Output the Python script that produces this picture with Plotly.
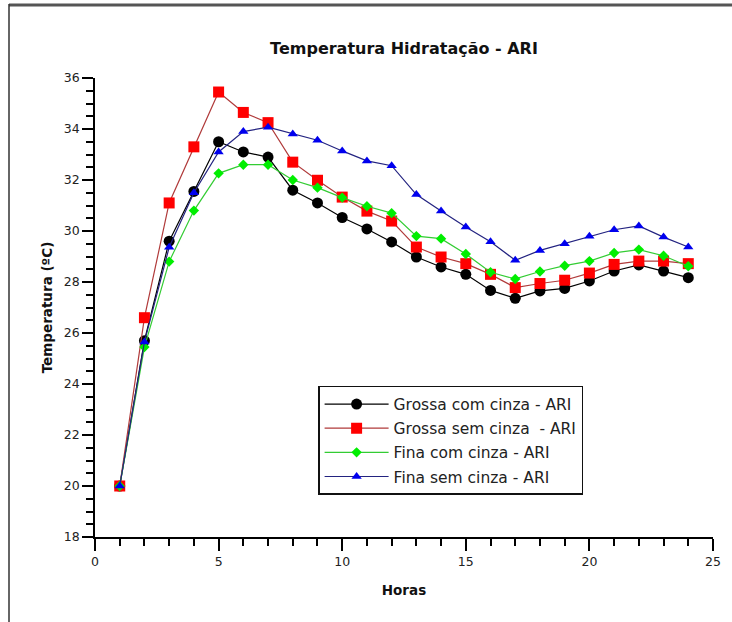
import plotly.graph_objects as go

horas = list(range(1, 25))
grossa_com = [20.0, 25.7, 29.6, 31.55, 33.5, 33.1, 32.9, 31.6, 31.1, 30.53, 30.08, 29.57,
              28.98, 28.59, 28.3, 27.67, 27.36, 27.65, 27.75, 28.04, 28.43, 28.67, 28.43, 28.17]
grossa_sem = [20.0, 26.6, 31.1, 33.3, 35.45, 34.65, 34.25, 32.7, 31.99, 31.33, 30.78, 30.39,
              29.37, 28.98, 28.72, 28.3, 27.78, 27.94, 28.07, 28.35, 28.69, 28.82, 28.82, 28.72]
fina_com = [20.0, 25.45, 28.8, 30.8, 32.26, 32.6, 32.6, 32.0, 31.7, 31.31, 30.97, 30.7,
            29.8, 29.7, 29.1, 28.38, 28.12, 28.41, 28.64, 28.82, 29.14, 29.27, 29.03, 28.62]
fina_sem = [20.0, 25.65, 29.36, 31.5, 33.1, 33.9, 34.07, 33.8, 33.56, 33.14, 32.75, 32.56,
            31.43, 30.78, 30.16, 29.58, 28.85, 29.24, 29.5, 29.79, 30.05, 30.2, 29.76, 29.37]

series = [
    ("Grossa com cinza - ARI", grossa_com, "#000000", "#000000", "circle", 11),
    ("Grossa sem cinza  - ARI", grossa_sem, "#b03a3a", "#ff0000", "square", 11),
    ("Fina com cinza - ARI", fina_com, "#33cc33", "#00ee00", "diamond", 8),
    ("Fina sem cinza - ARI", fina_sem, "#232380", "#0000ee", "triangle-up", 9),
]

fig = go.Figure()
for i, (name, vals, lc, mc, sym, ms) in enumerate(series):
    fig.add_trace(go.Scatter(
        x=horas, y=vals, name=name, mode="lines+markers",
        line=dict(color=lc, width=1.2),
        marker=dict(color=mc, symbol=sym, size=ms, line=dict(width=0)),
        legendgroup=f"g{i}",
    ))

font = "DejaVu Sans"
fig.update_layout(
    width=732, height=622,
    margin=dict(l=95, r=19, t=78, b=85),
    paper_bgcolor="white", plot_bgcolor="white",
    font=dict(family=font, size=12, color="#222"),
    title=dict(text="<b>Temperatura Hidratação - ARI</b>", x=(95 + 713) / 2 / 732, xanchor="center",
               y=1 - 48 / 622, yanchor="middle", font=dict(size=16, color="#111")),
    showlegend=True,
    legend=dict(x=0.361, y=0.329, xanchor="left", yanchor="top",
                bordercolor="#111", borderwidth=1.5, bgcolor="white", itemwidth=64,
                font=dict(size=15.5, color="#222"), tracegroupgap=1),
)
fig.update_xaxes(range=[0, 25], dtick=5, showgrid=False, zeroline=False, automargin=False,
                 showline=True, linecolor="#000", linewidth=1.5,
                 ticks="outside", ticklen=12, tickwidth=1.5, tickcolor="#000",
                 tickfont=dict(size=12.5),
                 minor=dict(ticks="outside", ticklen=7, dtick=1, tickwidth=1.5, tickcolor="#000", showgrid=False),
                 title=dict(text="<b>Horas</b>", font=dict(size=13.5, color="#111"), standoff=18))
fig.update_yaxes(range=[18, 36], dtick=2, showgrid=False, zeroline=False, automargin=False,
                 showline=True, linecolor="#000", linewidth=1.5,
                 ticks="outside", ticklen=11, tickwidth=1.5, tickcolor="#000",
                 tickfont=dict(size=12.5),
                 minor=dict(ticks="outside", ticklen=7, dtick=0.5, tickwidth=1.5, tickcolor="#000", showgrid=False),
                 title=dict(text="<b>Temperatura (ºC)</b>", font=dict(size=13.5, color="#111"), standoff=8))

# outer frame (cropped screenshot border)
fig.add_shape(type="line", xref="paper", yref="paper", x0=(9 - 95) / 618, x1=(732 - 95) / 618,
              y0=(537 - 5) / 459, y1=(537 - 5) / 459, line=dict(color="#555", width=3))
fig.add_shape(type="line", xref="paper", yref="paper", x0=(9 - 95) / 618, x1=(9 - 95) / 618,
              y0=(537 - 4) / 459, y1=(537 - 625) / 459, line=dict(color="#333", width=1.5))

fig.write_html("out.html", config={"displayModeBar": False},
               post_script="document.body.style.margin='0';")
